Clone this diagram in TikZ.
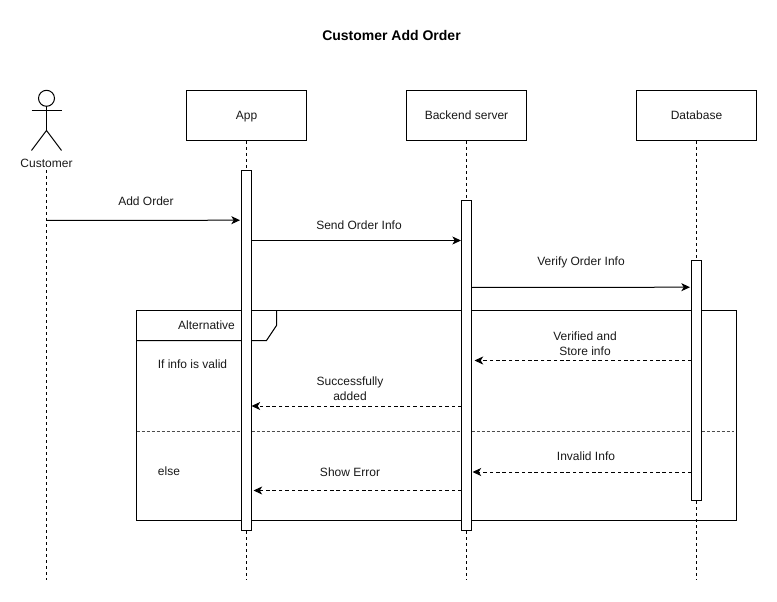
\documentclass[tikz,border=0pt]{standalone}
\usepackage{fontspec}
\setmainfont{Liberation Sans}
\usetikzlibrary{arrows.meta}
\begin{document}
\begin{tikzpicture}[x=0.75pt,y=-0.75pt,line width=0.75pt,
  every node/.style={font=\fontsize{9}{11.25}\selectfont,text=black!90,inner sep=0pt,align=center},
  titlelabel/.style={font=\fontsize{10.5}{13}\selectfont\bfseries,text=black},
  party/.style={draw,fill=white,minimum width=90pt,minimum height=37.5pt,text height=6.5pt,text depth=0.5pt},
  activation/.style={draw,fill=white,minimum width=7.5pt},
  lifeline/.style={dash pattern=on 2.25pt off 2.25pt},
  msg/.style={-{Stealth[length=6.5pt,width=6pt,inset=1.8pt]}},
  reply/.style={msg,dash pattern=on 2.6pt off 2.2pt},
  framesep/.style={dash pattern=on 2.25pt off 1.5pt,black!70}]
\useasboundingbox (0,0) rectangle (777,602);
% title
\node[titlelabel] (title) at (391.5,35) {Customer Add Order};
% frame
\node[draw,minimum width=450pt,minimum height=157.5pt] (frame) at (436.5,415.5) {};
\draw (136.5,340.5) coordinate (tabL) -- (266.5,340.5) -- (276.5,325.5) -- (276.5,310.5) coordinate (tabR);
\coordinate (sepL) at (136.5,431);
\coordinate (sepR) at (733.5,431);
\draw[framesep] (sepL) -- (sepR);
\node (alt) at (206.5,325.2) {Alternative};
\node (valid) at (192.5,364) {If info is valid};
\node (else) at (169,471) {else};
% parties
\node[party] (app) at (246.5,115.5) {App};
\node[party] (backend) at (466.5,115.5) {Backend server};
\node[party] (db) at (696.5,115.5) {Database};
% actor
\node[draw,circle,minimum size=12pt] (head) at (46.5,98.3) {};
\coordinate (hip) at (46.5,130.5);
\coordinate (armL) at (31.5,110.5);
\coordinate (armR) at (61.5,110.5);
\coordinate (legL) at (31.5,150.5);
\coordinate (legR) at (61.5,150.5);
\draw (head.south) -- (hip);
\draw (armL) -- (armR);
\draw (legL) -- (hip) -- (legR);
\node (customer) at (46.5,163.5) {Customer};
% lifelines
\coordinate (custEnd) at (46.5,580);
\coordinate (appEnd) at (246.5,580);
\coordinate (backEnd) at (466.5,580);
\coordinate (dbEnd) at (696.5,580);
\coordinate (custStart) at (46.5,170);
\draw[lifeline] (custStart) -- (custEnd);
\draw[lifeline] (app.south) -- (appEnd);
\draw[lifeline] (backend.south) -- (backEnd);
\draw[lifeline] (db.south) -- (dbEnd);
% activations
\node[activation,minimum height=270pt] (appA) at (246.5,350.5) {};
\node[activation,minimum height=247.5pt] (backA) at (466.5,365.5) {};
\node[activation,minimum height=180pt] (dbA) at (696.5,380.5) {};
% message ends
\coordinate (m1s) at (46.5,220.5);
\coordinate (m1e) at (240,220.2);
\coordinate (m2s) at (251.5,240.5);
\coordinate (m2e) at (461,240.5);
\coordinate (m3s) at (471.5,287.5);
\coordinate (m3e) at (690,287.2);
\coordinate (m4s) at (691.5,360.5);
\coordinate (m4e) at (474.5,360.5);
\coordinate (m5s) at (461.5,406);
\coordinate (m5e) at (251.5,406);
\coordinate (m6s) at (691.5,472);
\coordinate (m6e) at (472.5,472);
\coordinate (m7s) at (461.5,490.5);
\coordinate (m7e) at (253.5,490.5);
\draw[msg] (m1s) -- (m1e);
\draw[msg] (m2s) -- (m2e);
\draw[msg] (m3s) -- (m3e);
\draw[reply] (m4s) -- (m4e);
\draw[reply] (m5s) -- (m5e);
\draw[reply] (m6s) -- (m6e);
\draw[reply] (m7s) -- (m7e);
% labels
\node (l1) at (146,201) {Add Order};
\node (l2) at (359,225) {Send Order Info};
\node (l3) at (581,262) {Verify Order Info};
\node (l4) at (585,343.5) {Verified and\\Store info};
\node (l5) at (350,388.5) {Successfully\\added};
\node (l6) at (586,456) {Invalid Info};
\node (l7) at (350,472) {Show Error};
\end{tikzpicture}
\end{document}
